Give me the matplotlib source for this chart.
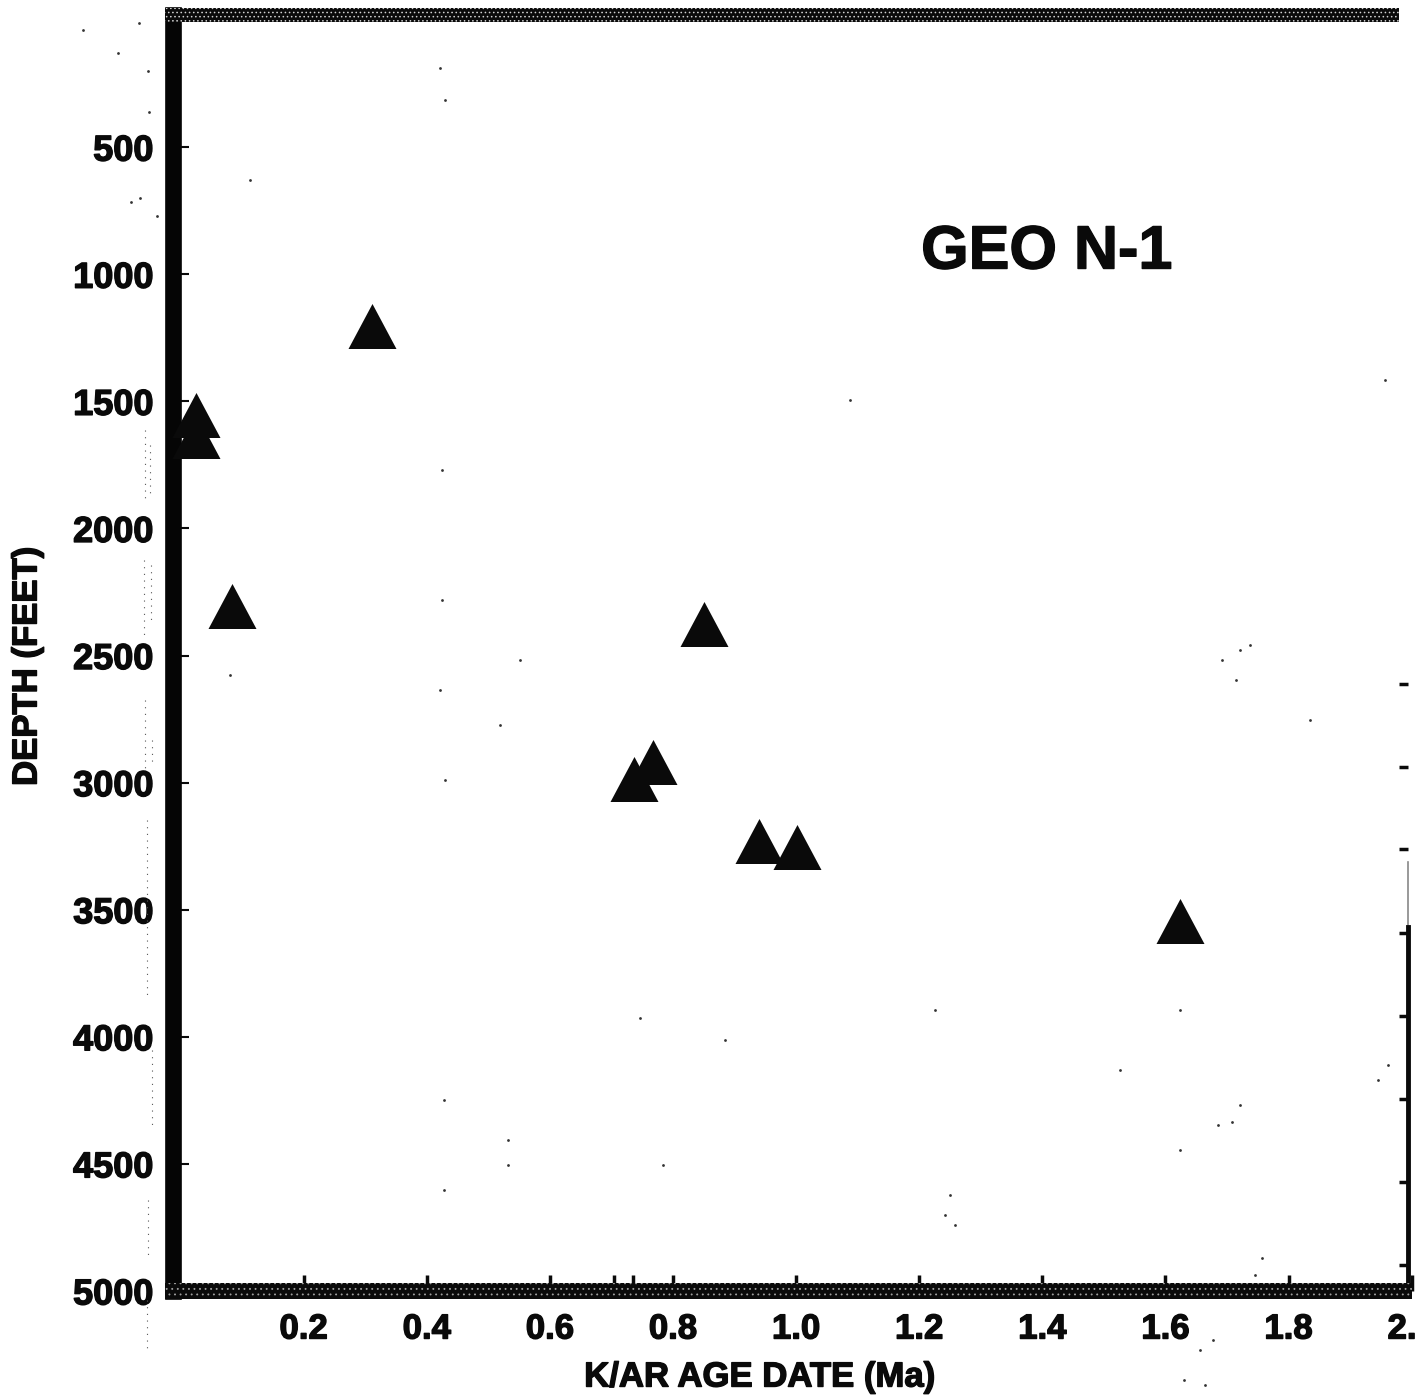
import numpy as np
import matplotlib
matplotlib.use('Agg')
from matplotlib import pyplot as plt
from matplotlib.patches import Rectangle
from matplotlib.lines import Line2D
from matplotlib import patheffects as pe

age = [0.025, 0.025, 0.084, 0.311, 0.850, 0.768, 0.736, 0.940, 1.001, 1.624]
depth = [1636, 1554, 2305, 1204, 2374, 2917, 2986, 3230, 3253, 3544]

xticks = [0.2, 0.4, 0.6, 0.8, 1.0, 1.2, 1.4, 1.6, 1.8, 2.0]
xlabels = ['0.2', '0.4', '0.6', '0.8', '1.0', '1.2', '1.4', '1.6', '1.8', '2.0']
xticks_extra = [0.705, 0.735]
yticks = [500, 1000, 1500, 2000, 2500, 3000, 3500, 4000, 4500, 5000]
right_ticks = [2612, 2939, 3261, 3592, 3918, 4245, 4571, 4898]

# пылинки со скана, пиксели исходной картинки
dust_x = [83, 139, 118, 148, 149, 131, 140, 157, 440, 445, 250, 1240, 1222, 1236, 1250, 1388, 1378, 1240,
          1232, 1218, 1180, 950, 945, 955, 508, 508, 444, 444, 1213, 1255, 1262, 1184, 1200, 1205,
          442, 442, 440, 445, 640, 663, 725, 520, 500, 935, 1120, 1310, 1385, 850, 1180, 230]
dust_y = [30, 23, 53, 71, 112, 202, 198, 216, 68, 100, 180, 650, 660, 680, 645, 1065, 1080, 1105,
          1122, 1125, 1150, 1195, 1215, 1225, 1140, 1165, 1100, 1190, 1340, 1275, 1258, 1380, 1350, 1385,
          470, 600, 690, 780, 1018, 1165, 1040, 660, 725, 1010, 1070, 720, 380, 400, 1010, 675]
# полосы точек слева от шкалы: x, начало y, конец y
dust_strips = [(145, 430, 500), (150, 445, 495), (144, 560, 640), (151, 565, 625), (145, 700, 770), (152, 740, 765),
               (147, 820, 1000), (152, 1050, 1130), (148, 1200, 1260), (147, 1300, 1350)]

W, H = 1415, 1399
fig = plt.figure(figsize=(W / 100, H / 100), dpi=100)
plt.rcParams['hatch.linewidth'] = 0.6
# рамка осей в пикселях исходной картинки
x0, x1, y0, y1 = 173, 1412, 15, 1291
ax = fig.add_axes([x0 / W, 1 - y1 / H, (x1 - x0) / W, (y1 - y0) / H])


def px_rect(xa, ya, xb, yb, hatch, hatch_color):
    fig.add_artist(Rectangle((xa / W, 1 - yb / H), (xb - xa) / W, (yb - ya) / H, transform=fig.transFigure,
                             facecolor='#0a0a0a', edgecolor=hatch_color, hatch=hatch, linewidth=0, zorder=1))


BOLD = dict(family='Liberation Sans', fontweight='bold', color='#0a0a0a')
INK = [pe.withStroke(linewidth=1.0, foreground='#0a0a0a')]

tri = [(-1, -0.9375), (1, -0.9375), (0, 0.9375), (-1, -0.9375)]
ax.scatter(age, depth, marker=tri, s=1194, color='#0a0a0a', linewidths=0, clip_on=False, zorder=5)

ax.set_xlim((x0 - 180.5) / 615.6, (x1 - 180.5) / 615.6)
ax.set_ylim(5000, -20)
ax.set_xticks(xticks)
ax.set_xticklabels(xlabels, fontsize=25, path_effects=INK, **BOLD)
ax.set_xticks(xticks_extra, minor=True)
ax.set_yticks(yticks)
ax.set_yticklabels(yticks, fontsize=26, path_effects=INK, **BOLD)
ax.tick_params(axis='x', which='both', direction='in', length=11.5, width=2.5, pad=15.5, color='#0a0a0a')
ax.tick_params(axis='y', direction='in', length=11.5, width=1.5, pad=14, color='#0a0a0a')

ax.spines['left'].set_linewidth(12)
ax.spines['left'].set_color('#050505')
for side in ['top', 'bottom', 'right']:
    ax.spines[side].set_visible(False)

# верхняя и нижняя полосы с зерном скана
px_rect(165, 8, 1399, 22, '....', '#d0d0d0')
px_rect(165, 1283, 1412, 1299, '...', '#a0a0a0')

# правая линия: сверху тонкая серая, ниже толстая чёрная
rx = (1408 - 180.5) / 615.6
ax.plot([rx, rx], [(862 - 20) / 0.2542, (927 - 20) / 0.2542], color='#888888', lw=1.2, clip_on=False)
ax.plot([rx, rx], [(927 - 20) / 0.2542, 5000], color='#0a0a0a', lw=3.5, clip_on=False)
ax.hlines(right_ticks, rx - 9 / 615.6, rx, color='#0a0a0a', lw=2.5, clip_on=False)

fig.text(760 / W, 1 - 1377 / H, 'K/AR AGE DATE (Ma)', fontsize=25, ha='center', va='center', path_effects=INK, **BOLD)
fig.text(27 / W, 1 - 666 / H, 'DEPTH (FEET)', rotation=90, fontsize=25, ha='center', va='center',
         path_effects=INK, **BOLD)
fig.text(1047 / W, 1 - 253 / H, 'GEO N-1', fontsize=44, ha='center', va='center', path_effects=INK, **BOLD)

fig.add_artist(Line2D(np.array(dust_x) / W, 1 - np.array(dust_y) / H, transform=fig.transFigure, linestyle='none',
                      marker='o', markersize=2, color='#333333', markeredgewidth=0))
for sx, sa, sb in dust_strips:
    fig.add_artist(Line2D([sx / W, sx / W], [1 - sa / H, 1 - sb / H], transform=fig.transFigure,
                          linestyle=(0, (1, 5)), linewidth=0.8, color='#555555'))

fig.savefig('out.png', dpi=100)
